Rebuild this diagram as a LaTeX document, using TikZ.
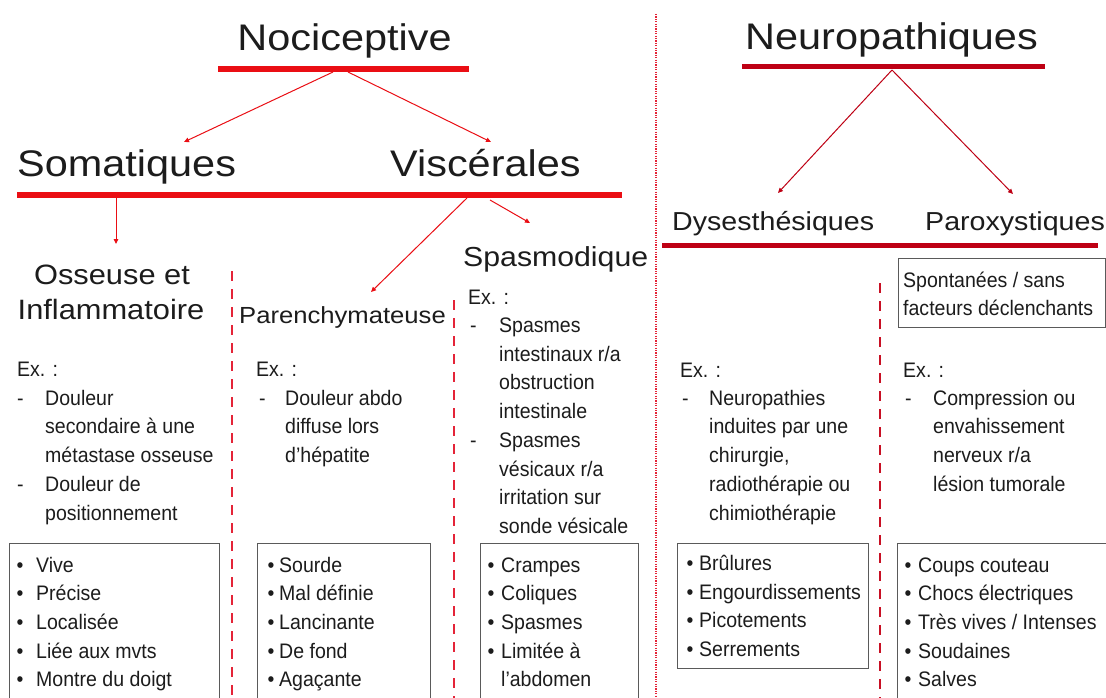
\documentclass[tikz,border=0pt]{standalone}
\usepackage{fontspec}
\setmainfont{Liberation Sans}
\newfontfamily\wideF[FakeStretch=1.12]{Liberation Sans}
\newfontfamily\midF[FakeStretch=1.1]{Liberation Sans}
\newfontfamily\bodyF[FakeStretch=0.93]{Liberation Sans}
\usetikzlibrary{arrows.meta}
\definecolor{nred}{RGB}{234,14,20}
\definecolor{dred}{RGB}{190,0,20}
\definecolor{dashred}{RGB}{228,36,56}
\definecolor{dashdred}{RGB}{200,16,36}
\definecolor{txt}{RGB}{28,28,28}
\definecolor{boxgray}{RGB}{90,90,90}
\tikzset{
  titletext/.style={inner sep=0, anchor=base, font=\wideF\fontsize{37}{40}\selectfont, text=txt},
  subtext/.style={inner sep=0, anchor=base west, font=\wideF\fontsize{37}{40}\selectfont, text=txt},
  midtext/.style={inner sep=0, font=\midF\fontsize{#1}{#1}\selectfont, text=txt},
  bodytext/.style={inner sep=0, anchor=base west, font=\bodyF\fontsize{21}{25}\selectfont, text=txt},
  bar/.style={line width=6pt, nred},
  dbar/.style={line width=5pt, dred},
  arr/.style={-{Triangle[length=5pt,width=4.5pt]}, line width=1pt, nred},
  darr/.style={-{Triangle[length=5pt,width=4.5pt]}, line width=1pt, dred},
  sep/.style={dashred, line width=2.4pt, dash pattern=on 10pt off 8pt},
  dsep/.style={dashdred, line width=2.4pt, dash pattern=on 10pt off 8pt},
  dotsep/.style={dashred, line width=1.3pt, dash pattern=on 1.2pt off 1.2pt},
  itembox/.style={draw=boxgray, line width=1.2pt, inner sep=0, anchor=north west, fill=none}
}
\begin{document}
\begin{tikzpicture}[x=1pt,y=-1pt]
\useasboundingbox (0,0) rectangle (1106,698);
\clip (0,0) rectangle (1106,698);
\fill[white] (0,0) rectangle (1106,698);

% ---------- Nociceptive ----------
\node[titletext] (noci) at (344.5,51) {Nociceptive};
\coordinate (b1L) at (218,69); \coordinate (b1R) at (469,69);
\draw[bar] (b1L) -- (b1R);
\coordinate (b1a) at (333,72); \coordinate (b1b) at (348,72);
\node[subtext] (soma) at (17,177) {Somatiques};
\node[subtext] (visc) at (390,177) {Viscérales};
\coordinate (tSoma) at (184,142); \coordinate (tVisc) at (491,142);
\draw[arr] (b1a) -- (tSoma);
\draw[arr] (b1b) -- (tVisc);
\coordinate (b2L) at (17,195); \coordinate (b2R) at (622,195);
\draw[bar] (b2L) -- (b2R);

\coordinate (b2a) at (116,198); \coordinate (tOss) at (116,244);
\draw[arr] (b2a) -- (tOss);
\coordinate (b2b) at (467,198); \coordinate (tPar) at (371,292);
\draw[arr] (b2b) -- (tPar);
\coordinate (b2c) at (490,200); \coordinate (tSpa) at (530,223);
\draw[arr] (b2c) -- (tSpa);

\node[midtext=28, anchor=base] (oss1) at (112,284) {Osseuse et};
\node[midtext=28, anchor=base] (oss2) at (111,319) {Inflammatoire};
\node[midtext=23.3, anchor=base west] (paren) at (239,323) {Parenchymateuse};
\node[midtext=27.5, anchor=base west] (spasm) at (463,266) {Spasmodique};

% separators
\coordinate (s1t) at (232,271); \coordinate (s1b) at (232,700);
\draw[sep] (s1t) -- (s1b);
\coordinate (s2t) at (454,300); \coordinate (s2b) at (454,700);
\draw[sep] (s2t) -- (s2b);
\coordinate (s3t) at (656,14); \coordinate (s3b) at (656,700);
\draw[dotsep] (s3t) -- (s3b);

% column 1
\node[bodytext] (c1ex) at (17,376) {Ex. :};
\node[bodytext] (c1d1) at (17,405) {-};
\node[bodytext] (c1d2) at (17,491.4) {-};
\foreach \t [count=\i from 0] in {Douleur, secondaire à une, métastase osseuse, Douleur de, positionnement}
  \node[bodytext] (c1l\i) at (45,405+\i*28.8) {\t};
\node[itembox, minimum width=210.5pt, minimum height=160pt] (box1) at (8.5,542.5) {};
\foreach \t [count=\i from 0] in {Vive, Précise, Localisée, Liée aux mvts, Montre du doigt}
  \node[bodytext] (b1i\i) at (16.5,572+\i*28.7) {\makebox[19.5pt][l]{•}\t};

% column 2
\node[bodytext] (c2ex) at (256,376) {Ex. :};
\node[bodytext] (c2d1) at (259,405) {-};
\foreach \t [count=\i from 0] in {Douleur abdo, diffuse lors, d’hépatite}
  \node[bodytext] (c2l\i) at (285,405+\i*28.8) {\t};
\node[itembox, minimum width=173pt, minimum height=160pt] (box2) at (257,542.5) {};
\foreach \t [count=\i from 0] in {Sourde, Mal définie, Lancinante, De fond, Agaçante}
  \node[bodytext] (b2i\i) at (267.5,572+\i*28.7) {\makebox[11.5pt][l]{•}\t};

% column 3
\node[bodytext] (c3ex) at (468,304) {Ex. :};
\node[bodytext] (c3d1) at (470,332.5) {-};
\node[bodytext] (c3d2) at (470,447.3) {-};
\foreach \t [count=\i from 0] in {Spasmes, intestinaux r/a, obstruction, intestinale, Spasmes, vésicaux r/a, irritation sur, sonde vésicale}
  \node[bodytext] (c3l\i) at (499,332.5+\i*28.7) {\t};
\node[itembox, minimum width=158pt, minimum height=160pt] (box3) at (480,542.5) {};
\foreach \t [count=\i from 0] in {Crampes, Coliques, Spasmes, Limitée à}
  \node[bodytext] (b3i\i) at (487.5,572+\i*28.7) {\makebox[13.5pt][l]{•}\t};
\node[bodytext] (b3i4) at (501,686.8) {l’abdomen};

% ---------- Neuropathiques ----------
\node[titletext] (neuro) at (891.5,50) {Neuropathiques};
\coordinate (b3L) at (742,67); \coordinate (b3R) at (1045,67);
\draw[dbar] (b3L) -- (b3R);
\coordinate (b3a) at (892,70);
\coordinate (tDys) at (778,193); \coordinate (tPar2) at (1013,194);
\draw[darr] (b3a) -- (tDys);
\draw[darr] (b3a) -- (tPar2);
\node[midtext=26, anchor=base west] (dys) at (672,230) {Dysesthésiques};
\node[midtext=26, anchor=base west] (parox) at (925,230) {Paroxystiques};
\coordinate (b4L) at (662,245); \coordinate (b4R) at (1098,245);
\draw[dbar] (b4L) -- (b4R);

\node[itembox, minimum width=207pt, minimum height=69pt] (spont) at (898,258) {};
\node[bodytext] (sp1) at (903,287) {Spontanées / sans};
\node[bodytext] (sp2) at (903,315) {facteurs déclenchants};

\coordinate (s4t) at (880,283); \coordinate (s4b) at (880,700);
\draw[dsep] (s4t) -- (s4b);

% column 4
\node[bodytext] (c4ex) at (680,377) {Ex. :};
\node[bodytext] (c4d1) at (682,405) {-};
\foreach \t [count=\i from 0] in {Neuropathies, induites par une, {chirurgie,}, radiothérapie ou, chimiothérapie}
  \node[bodytext] (c4l\i) at (709,405+\i*28.8) {\t};
\node[itembox, minimum width=191pt, minimum height=125pt] (box4) at (677,543) {};
\foreach \t [count=\i from 0] in {Brûlures, Engourdissements, Picotements, Serrements}
  \node[bodytext] (b4i\i) at (686.5,570.5+\i*28.5) {\makebox[12.5pt][l]{•}\t};

% column 5
\node[bodytext] (c5ex) at (903,377) {Ex. :};
\node[bodytext] (c5d1) at (905,405) {-};
\foreach \t [count=\i from 0] in {Compression ou, envahissement, nerveux r/a, lésion tumorale}
  \node[bodytext] (c5l\i) at (933,405+\i*28.8) {\t};
\node[itembox, minimum width=208.5pt, minimum height=160pt] (box5) at (897,543) {};
\foreach \t [count=\i from 0] in {Coups couteau, Chocs électriques, Très vives / Intenses, Soudaines, Salves}
  \node[bodytext] (b5i\i) at (904.5,572+\i*28.7) {\makebox[13.5pt][l]{•}\t};
\end{tikzpicture}
\end{document}
